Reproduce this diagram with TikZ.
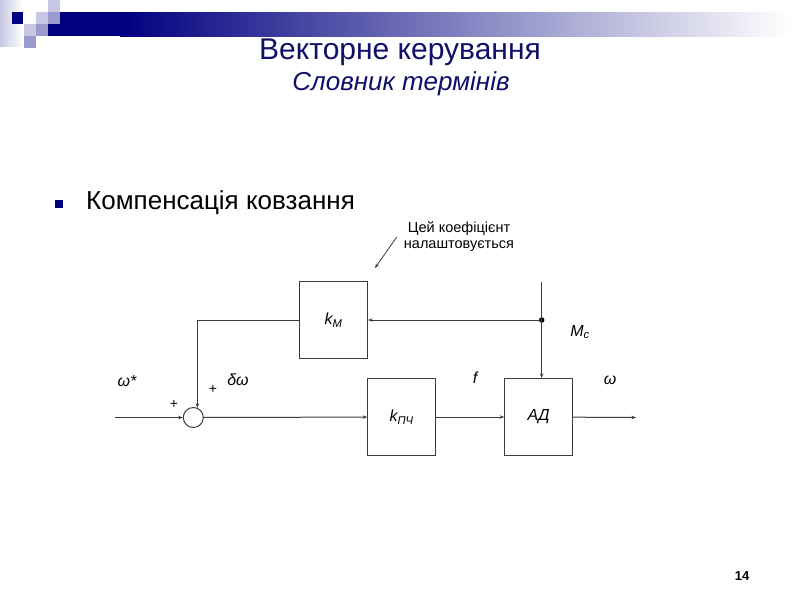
\documentclass[tikz,border=0pt]{standalone}
\usepackage{fontspec}
\setmainfont{Liberation Sans}
\usetikzlibrary{arrows.meta,positioning,calc}
\definecolor{navy}{HTML}{000080}
\definecolor{titleblue}{HTML}{10106A}
\definecolor{lavA}{HTML}{C8C8E4}
\definecolor{lavB}{HTML}{9A9ACC}
\definecolor{wire}{HTML}{3C3C3C}

\begin{document}
\begin{tikzpicture}[x=1pt, y=-1pt,
  blk/.style={draw=wire, line width=1pt, minimum width=68pt,
              minimum height=77pt, inner sep=0pt,
              font=\fontsize{16}{18}\selectfont\itshape},
  lab/.style={font=\fontsize{16}{18}\selectfont\itshape, inner sep=0pt},
  sgn/.style={font=\fontsize{14}{16}\selectfont, inner sep=0pt},
  arr/.style={-{Stealth[length=4.5pt,width=3.5pt]}, draw=wire, line width=1pt}]
\useasboundingbox (0,0) rectangle (800,600);
\fill[white] (0,0) rectangle (800,600);
% header bar and squares
\shade[left color=lavA, right color=white] (0,0) rectangle (23,46);
\fill[navy] (48,12) rectangle (120,36);
\shade[left color=navy, right color=white] (120,12) rectangle (790,36);
\fill[navy] (12,12) rectangle (23,24);
\fill[lavA] (48,0) rectangle (60,12);
\fill[lavA] (36,12) rectangle (48,24);
\fill[lavB] (48,12) rectangle (60,24);
\fill[lavA] (24,24) rectangle (36,36);
\fill[lavB] (36,24) rectangle (48,36);
\fill[lavB] (24,36) rectangle (36,48);
% titles
\node[anchor=base, font=\fontsize{30}{34}\selectfont, text=titleblue] (title)
  at (400,59) {Векторне керування};
\node[anchor=base, font=\fontsize{26}{28}\selectfont\itshape, text=titleblue] (subtitle)
  at (401,90) {Словник термінів};
\fill[navy] (55,200) rectangle (63,208);
\node[anchor=base west, font=\fontsize{26}{30}\selectfont, inner sep=0pt] (item)
  at (86,209) {Компенсація ковзання};
\node[font=\fontsize{14.5}{16}\selectfont, align=center, inner sep=2pt] (note)
  at (459,237) {Цей коефіцієнт\\налаштовується};
% blocks
\node[blk] (km) at (333.5,320) {k\textsubscript{М}};
\node[blk] (kpch) at (401.7,417) {k\textsubscript{ПЧ}};
\node[blk, right=68pt of kpch] (ad) {АД};
\node[draw=wire, line width=1pt, circle, minimum size=20pt, inner sep=0pt]
  (sum) at (193.3,417.5) {};
\coordinate (win) at (115,417.5);
\coordinate (wout) at (636,417.5);
\coordinate (mc) at (541.7,282);
\coordinate (tgt) at (375,268);
\node[circle, fill=black, inner sep=0pt, minimum size=5.5pt] (tap) at (mc |- km.east) {};
% connectors
\draw[arr] (win) -- (sum);
\draw[arr] (sum) -- (kpch);
\draw[arr] (kpch) -- (ad);
\draw[arr] (ad) -- (wout);
\draw[arr] (mc) -- (mc |- ad.north);
\draw[arr] (tap) -- (km);
\draw[arr] (km) -| (sum.67);
\draw[arr, line width=0.8pt] ([xshift=-5pt]note.west) -- (tgt);
% labels
\node[lab] (wref) at (127,381) {ω*};
\node[sgn] (plus1) at (174,404) {+};
\node[sgn] (plus2) at (213,389) {+};
\node[lab] (dw) at (238,380) {δω};
\node[lab] (flab) at (475,378) {f};
\node[lab] (wlab) at (610,380) {ω};
\node[lab] (mclab) at (580,332) {М\textsubscript{с}};
\node[font=\fontsize{13}{15}\selectfont\bfseries] (pg) at (742,576) {14};
\end{tikzpicture}
\end{document}
